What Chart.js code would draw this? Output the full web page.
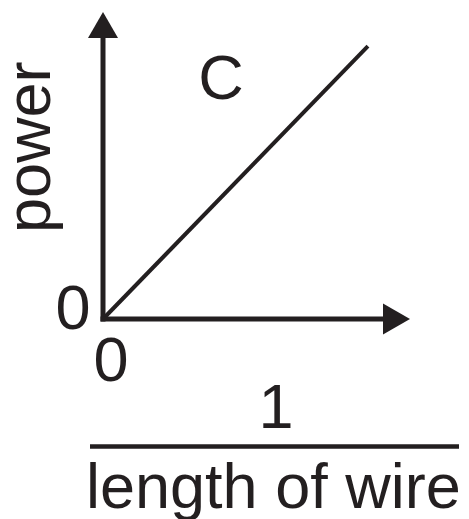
<!DOCTYPE html>
<html>
<head>
<meta charset="utf-8">
<script src="https://cdn.jsdelivr.net/npm/chart.js@4/dist/chart.umd.min.js"></script>
<style>
  html, body { margin: 0; padding: 0; background: #fff; }
  #wrap { width: 469px; height: 519px; }
</style>
</head>
<body>
<div id="wrap"><canvas id="graph"></canvas></div>
<script>
// line C, from origin towards the upper right (axes run 0..1)
var lineX = [0, 0.863];
var lineY = [0, 0.889];
var lineLabel = 'C';
var yTitle = 'power';
var xTitleTop = '1';
var xTitleBottom = 'length of wire';
var originLabel = '0';

var ink = '#231f20';
var font = '63px "Liberation Sans", Arial, sans-serif';

var points = [];
for (var i = 0; i < lineX.length; i++) {
    points.push({ x: lineX[i], y: lineY[i] });
}

var axesPlugin = {
    id: 'axesPlugin',
    afterDatasetsDraw: function (chart) {
        var ctx = chart.ctx;
        var xs = chart.scales.x, ys = chart.scales.y;
        var ox = xs.getPixelForValue(0), oy = ys.getPixelForValue(0);
        var xEnd = xs.getPixelForValue(1), yEnd = ys.getPixelForValue(1);

        ctx.save();
        ctx.strokeStyle = ink;
        ctx.fillStyle = ink;
        ctx.lineWidth = 5;
        ctx.lineCap = 'butt';

        // y axis + arrow
        ctx.beginPath();
        ctx.moveTo(ox, oy + 2.5);
        ctx.lineTo(ox, yEnd + 20);
        ctx.stroke();
        ctx.beginPath();
        ctx.moveTo(ox, yEnd);
        ctx.lineTo(ox - 15, yEnd + 26);
        ctx.lineTo(ox + 15, yEnd + 26);
        ctx.closePath();
        ctx.fill();

        // x axis + arrow
        ctx.beginPath();
        ctx.moveTo(ox - 2.5, oy);
        ctx.lineTo(xEnd - 20, oy);
        ctx.stroke();
        ctx.beginPath();
        ctx.moveTo(xEnd, oy);
        ctx.lineTo(xEnd - 27, oy - 15.5);
        ctx.lineTo(xEnd - 27, oy + 15.5);
        ctx.closePath();
        ctx.fill();

        // texts
        ctx.font = font;
        ctx.textBaseline = 'alphabetic';
        ctx.textAlign = 'center';
        ctx.fillText(lineLabel, ox + 118, 99);
        ctx.fillText(originLabel, ox - 30, oy + 10);
        ctx.fillText(originLabel, ox + 8, oy + 62);
        ctx.fillText(xTitleTop, 276, 428);

        ctx.textAlign = 'left';
        ctx.fillText(xTitleBottom, 86, 508);

        // fraction bar
        ctx.lineWidth = 4.7;
        ctx.beginPath();
        ctx.moveTo(90, 446.5);
        ctx.lineTo(459, 446.5);
        ctx.stroke();

        // rotated y title
        ctx.translate(50, 233);
        ctx.rotate(-Math.PI / 2);
        ctx.textAlign = 'left';
        ctx.fillText(yTitle, 0, 0);
        ctx.restore();
    }
};

new Chart(document.getElementById('graph').getContext('2d'), {
    type: 'scatter',
    data: {
        datasets: [{
            label: lineLabel,
            data: points,
            showLine: true,
            borderColor: ink,
            borderWidth: 4,
            pointRadius: 0,
            fill: false,
            clip: false
        }]
    },
    options: {
        responsive: true,
        maintainAspectRatio: false,
        animation: false,
        layout: { padding: { left: 103, right: 59, top: 12, bottom: 200 } },
        plugins: { legend: { display: false }, tooltip: { enabled: false } },
        scales: {
            x: { type: 'linear', min: 0, max: 1, display: false },
            y: { type: 'linear', min: 0, max: 1, display: false }
        }
    },
    plugins: [axesPlugin]
});
</script>
</body>
</html>
